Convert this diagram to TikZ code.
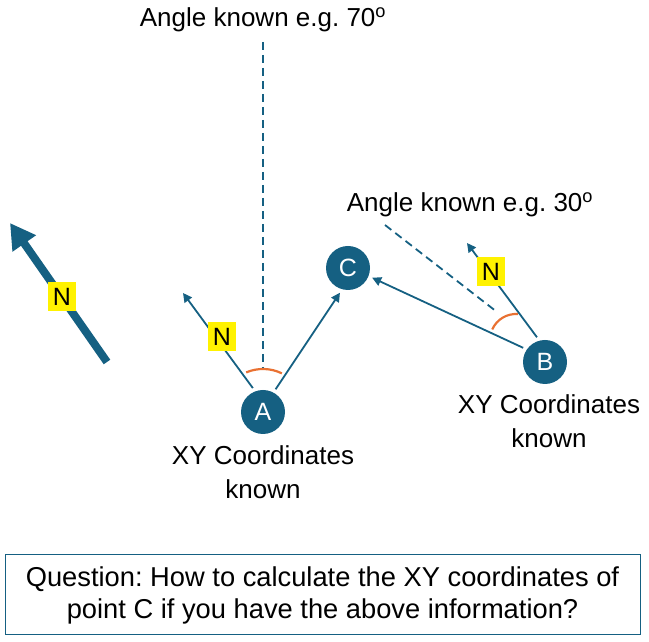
\documentclass[tikz,border=0pt]{standalone}
\usepackage{fontspec}
\setmainfont{Liberation Sans}
\usetikzlibrary{arrows.meta}
\definecolor{pointblue}{RGB}{21,96,130}
\definecolor{arcorange}{RGB}{233,113,50}
\tikzstyle{point} = [circle, fill=pointblue, text=white, minimum size=44pt, inner sep=0pt, outer sep=4pt, font=\fontsize{25}{29}\selectfont]
\tikzstyle{arrow} = [line width=1.8pt, -{Triangle[length=9pt,width=9pt]}, pointblue]
\tikzstyle{bigarrow} = [line width=8pt, -{Triangle[length=25pt,width=27pt]}, pointblue]
\tikzstyle{guide} = [line width=1.8pt, dash pattern=on 8pt off 5pt, pointblue]
\tikzstyle{angarc} = [line width=2.2pt, arcorange]
\tikzstyle{northbox} = [fill=yellow, text=black, inner sep=0pt, minimum width=28pt, minimum height=29pt, font=\fontsize{25}{29}\selectfont]
\tikzstyle{info} = [align=center, font=\fontsize{26}{34}\selectfont]

\begin{document}
\frenchspacing
\begin{tikzpicture}[x=1pt,y=1pt]
\useasboundingbox (0,0) rectangle (649,642);
\foreach \name/\x/\y in {A/263/230,C/348/374,B/545/280}
	\node[point] (\name) at (\x,\y) {\name};
\coordinate (tipA) at (183,349);
\coordinate (tipB) at (467,399);
\coordinate (topA) at (263,600);
\coordinate (footA) at (263,272);
\coordinate (topB) at (385,417);
\coordinate (footB) at (497,330);
\coordinate (arcB) at (516,302);
\coordinate (bigfoot) at (107,280);
\coordinate (bigtip) at (10,419);

\draw[guide] (topA) -- (footA);
\draw[guide] (topB) -- (footB);
\draw[arrow] (A.113) -- (tipA);
\draw[arrow] (B.108) -- (tipB);
\draw[arrow] (A.61) -- (C.252);
\draw[arrow] (B.147) -- (C.-22);
\draw[angarc] (A) ++(64:43) arc[start angle=64, end angle=113, radius=43];
\draw[angarc] (arcB) ++(86:26) arc[start angle=86, end angle=156, radius=26];
\draw[bigarrow] (bigfoot) -- (bigtip);

\node[northbox] (northA) at (222,305) {N};
\node[northbox] (northB) at (491,370) {N};
\node[northbox] (northbig) at (62,345) {N};

\node[info] (angleA) at (263,622) {Angle known e.g. 70\textsuperscript{o}};
\node[info] (angleB) at (470,437) {Angle known e.g. 30\textsuperscript{o}};
\node[info] (knownA) at (263,170) {XY Coordinates\\known};
\node[info] (knownB) at (549,221) {XY Coordinates\\known};
\node[draw=pointblue, line width=1pt, minimum width=635pt, minimum height=80pt, align=center,
	font=\fontsize{27.3}{32}\selectfont] (question) at (322.5,47)
	{Question: How to calculate the XY coordinates of\\point C if you have the above information?};
\end{tikzpicture}
\end{document}
